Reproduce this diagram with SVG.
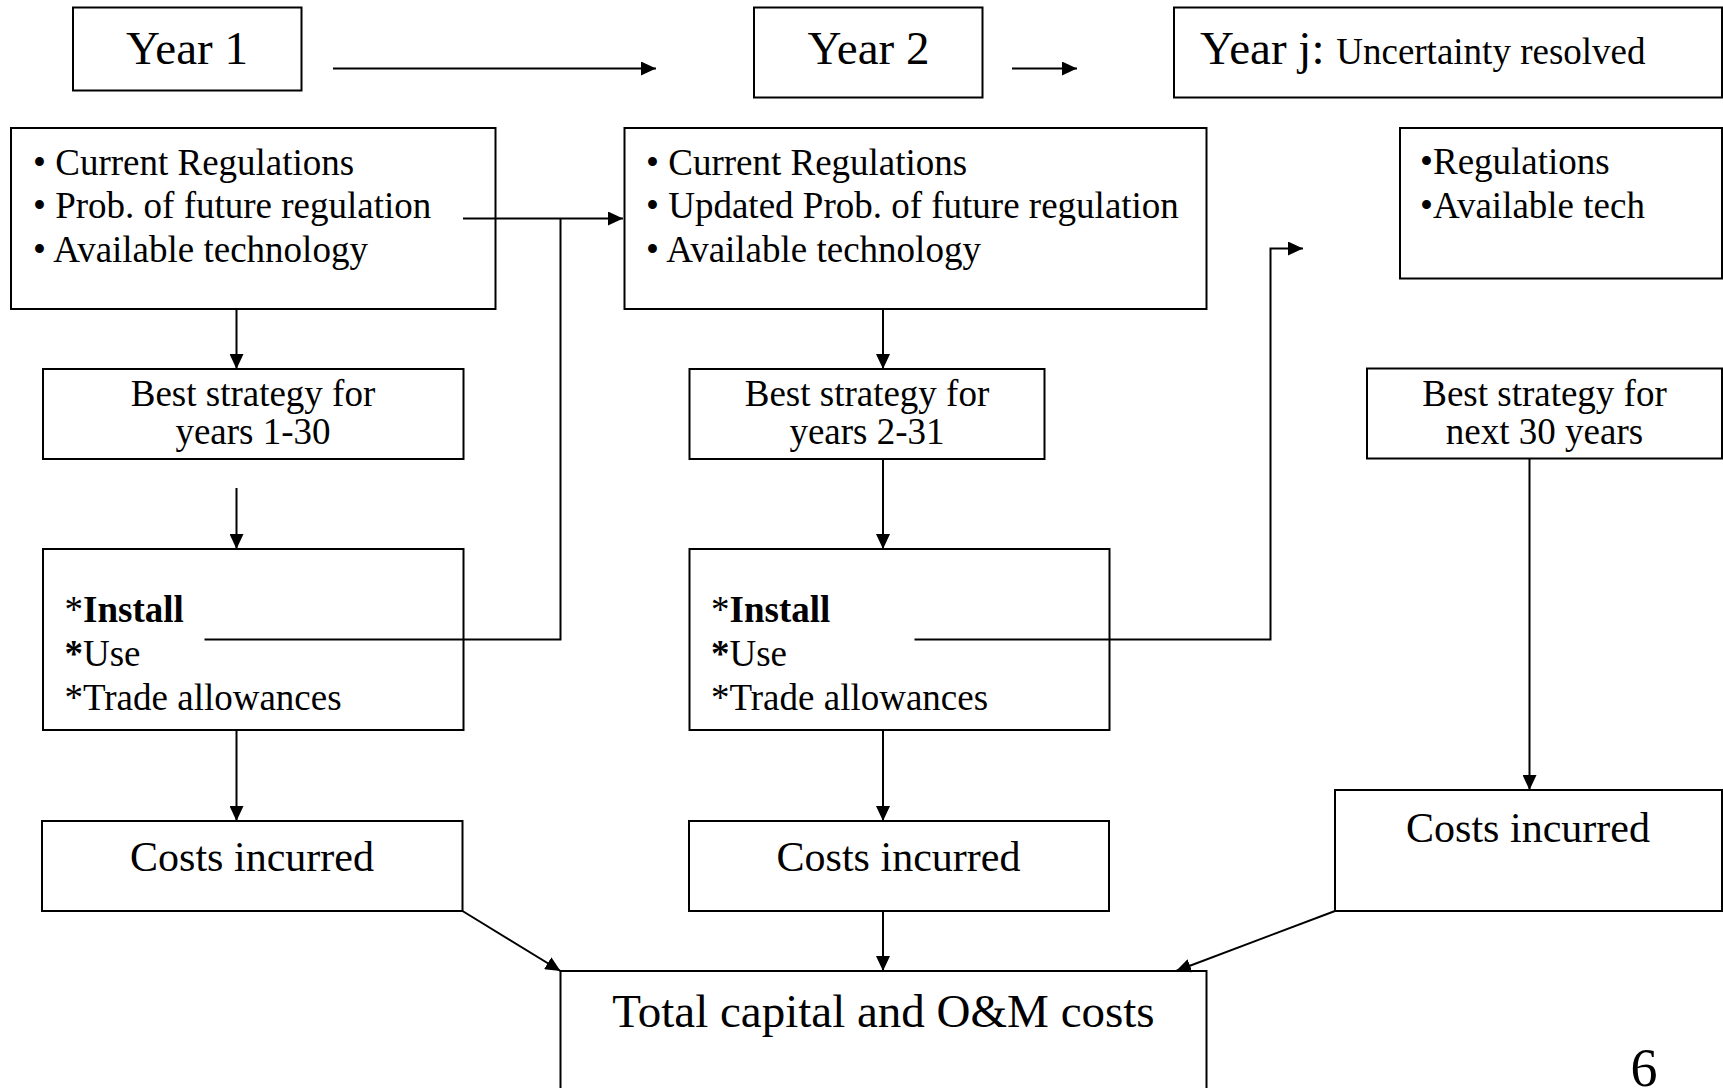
<svg xmlns="http://www.w3.org/2000/svg" width="1723" height="1088" viewBox="0 0 1723 1088">
<style>
.box{fill:#fff;stroke:#000;stroke-width:2}
.t{font-family:"Liberation Serif","Times New Roman",serif;fill:#000}
.f37{font-size:37px}
.f42{font-size:42px}
.f47{font-size:47px}
.c{text-anchor:middle}
.b{font-weight:bold}
.ln{fill:none;stroke:#000;stroke-width:2}
</style>
<defs>
<marker id="ah" markerUnits="userSpaceOnUse" markerWidth="16" markerHeight="14" refX="15" refY="7" orient="auto">
<path d="M0,0 L15,7 L0,14 z" fill="#000"/>
</marker>
</defs>
<rect width="1723" height="1088" fill="#fff"/>
<g id="year1">
<rect class="box" x="73" y="7.5" width="228.5" height="83"/>
<text class="t f47 c" x="187" y="63.5">Year 1</text>
</g>
<g id="year2">
<rect class="box" x="754" y="7.5" width="228.5" height="90"/>
<text class="t f47 c" x="868.5" y="63.5">Year 2</text>
</g>
<g id="yearj">
<rect class="box" x="1174" y="7.5" width="548" height="90"/>
<text class="t f47" x="1200" y="63.5">Year j: <tspan class="f37">Uncertainty resolved</tspan></text>
</g>
<g id="info1">
<rect class="box" x="11" y="128" width="484.5" height="181"/>
<text class="t f37" x="33" y="175">• Current Regulations</text>
<text class="t f37" x="33" y="218">• Prob. of future regulation</text>
<text class="t f37" x="33" y="261.5">• Available technology</text>
</g>
<g id="info2">
<rect class="box" x="624.5" y="128" width="582" height="181"/>
<text class="t f37" x="646" y="175">• Current Regulations</text>
<text class="t f37" x="646" y="218">• Updated Prob. of future regulation</text>
<text class="t f37" x="646" y="261.5">• Available technology</text>
</g>
<g id="info3">
<rect class="box" x="1400" y="128" width="322" height="150.5"/>
<text class="t f37" x="1420" y="174">•Regulations</text>
<text class="t f37" x="1420" y="218">•Available tech</text>
</g>
<g id="best1">
<rect class="box" x="43" y="369" width="420.5" height="90"/>
<text class="t f37 c" x="253" y="406">Best strategy for</text>
<text class="t f37 c" x="253" y="443.5">years 1-30</text>
</g>
<g id="best2">
<rect class="box" x="689.5" y="369" width="355" height="90"/>
<text class="t f37 c" x="867" y="406">Best strategy for</text>
<text class="t f37 c" x="867" y="443.5">years 2-31</text>
</g>
<g id="best3">
<rect class="box" x="1367" y="368.5" width="355" height="90"/>
<text class="t f37 c" x="1544.5" y="406">Best strategy for</text>
<text class="t f37 c" x="1544.5" y="443.5">next 30 years</text>
</g>
<g id="act1">
<rect class="box" x="43" y="549" width="420.5" height="181"/>
<text class="t f37" x="64.5" y="621.5">*<tspan class="b">Install</tspan></text>
<text class="t f37" x="64.5" y="666"><tspan class="b">*</tspan>Use</text>
<text class="t f37" x="64.5" y="710">*Trade allowances</text>
</g>
<g id="act2">
<rect class="box" x="689.5" y="549" width="420" height="181"/>
<text class="t f37" x="711" y="621.5">*<tspan class="b">Install</tspan></text>
<text class="t f37" x="711" y="666"><tspan class="b">*</tspan>Use</text>
<text class="t f37" x="711" y="710">*Trade allowances</text>
</g>
<g id="cost1">
<rect class="box" x="42" y="821" width="420.5" height="90"/>
<text class="t f42 c" x="252" y="871">Costs incurred</text>
</g>
<g id="cost2">
<rect class="box" x="689" y="821" width="420" height="90"/>
<text class="t f42 c" x="898.5" y="871">Costs incurred</text>
</g>
<g id="cost3">
<rect class="box" x="1335" y="790" width="387" height="121"/>
<text class="t f42 c" x="1528" y="842">Costs incurred</text>
</g>
<g id="total">
<rect class="box" x="560.5" y="971" width="646" height="130"/>
<text class="t f47 c" x="883.5" y="1027">Total capital and O&amp;M costs</text>
</g>
<text class="t c" x="1644" y="1086" font-size="54">6</text>
<g id="connectors">
<line class="ln" x1="333" y1="68.5" x2="656" y2="68.5" marker-end="url(#ah)"/>
<line class="ln" x1="1012" y1="68.5" x2="1077" y2="68.5" marker-end="url(#ah)"/>
<line class="ln" x1="463" y1="218.5" x2="623" y2="218.5" marker-end="url(#ah)"/>
<polyline class="ln" points="204.5,639.5 560.5,639.5 560.5,218.5"/>
<polyline class="ln" points="914.5,639.5 1270.5,639.5 1270.5,248.5 1303,248.5" marker-end="url(#ah)"/>
<line class="ln" x1="236.5" y1="309" x2="236.5" y2="369" marker-end="url(#ah)"/>
<line class="ln" x1="236.5" y1="488" x2="236.5" y2="549" marker-end="url(#ah)"/>
<line class="ln" x1="236.5" y1="730" x2="236.5" y2="821" marker-end="url(#ah)"/>
<line class="ln" x1="883" y1="309" x2="883" y2="369" marker-end="url(#ah)"/>
<line class="ln" x1="883" y1="459" x2="883" y2="549" marker-end="url(#ah)"/>
<line class="ln" x1="883" y1="730" x2="883" y2="821" marker-end="url(#ah)"/>
<line class="ln" x1="1529.5" y1="459" x2="1529.5" y2="790" marker-end="url(#ah)"/>
<line class="ln" x1="462.5" y1="911" x2="560.5" y2="971" marker-end="url(#ah)"/>
<line class="ln" x1="883" y1="911" x2="883" y2="971" marker-end="url(#ah)"/>
<line class="ln" x1="1335" y1="911" x2="1176" y2="971" marker-end="url(#ah)"/>
</g>
</svg>
